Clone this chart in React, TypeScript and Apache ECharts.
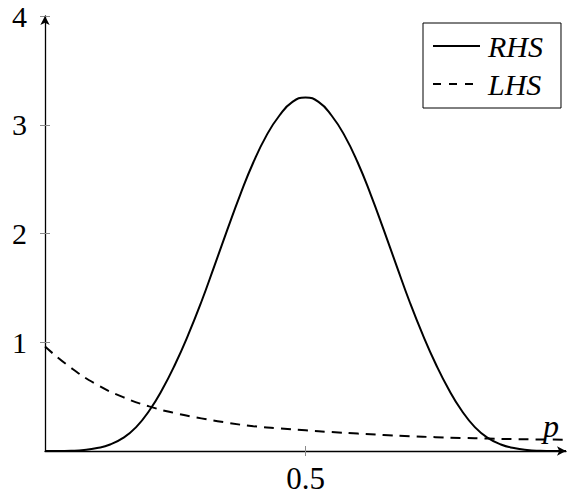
import React, { useEffect, useRef } from "react";
import * as echarts from "echarts";

const P_VALUES = [
  0, 0.025, 0.05, 0.075, 0.1, 0.125, 0.15, 0.175, 0.2, 0.225, 0.25, 0.275, 0.3, 0.325, 0.35, 0.375, 0.4,
  0.425, 0.45, 0.475, 0.5, 0.525, 0.55, 0.575, 0.6, 0.625, 0.65, 0.675, 0.7, 0.725, 0.75, 0.775, 0.8,
  0.825, 0.85, 0.875, 0.9, 0.925, 0.95, 0.975, 1,
];
const RHS_VALUES = [
  0, 0, 0.002, 0.009, 0.027, 0.06, 0.12, 0.22, 0.37, 0.565, 0.8, 1.07, 1.37, 1.7, 2.035, 2.36, 2.655,
  2.9, 3.085, 3.21, 3.25, 3.21, 3.085, 2.9, 2.655, 2.36, 2.035, 1.7, 1.37, 1.07, 0.8, 0.565, 0.37,
  0.22, 0.12, 0.06, 0.027, 0.009, 0.002, 0, 0,
];
const P_LHS = [0, 0.05, 0.1, 0.15, 0.2, 0.25, 0.3, 0.35, 0.4, 0.45, 0.5, 0.55, 0.6, 0.65, 0.7, 0.75, 0.8, 0.85, 0.9, 0.95, 1];
const LHS_VALUES = [
  0.96, 0.765, 0.61, 0.495, 0.41, 0.348, 0.3, 0.26, 0.228, 0.207, 0.19, 0.174, 0.16, 0.147, 0.136, 0.127,
  0.12, 0.114, 0.109, 0.106, 0.104,
];
const X_TICKS = [0.5];
const Y_TICKS = [1, 2, 3, 4];
const SERIES_NAMES = ["RHS", "LHS"];
const X_NAME = "p";

const SERIF = '"Liberation Serif", "Times New Roman", serif';

export default function App() {
  const ref = useRef<HTMLDivElement>(null);
  useEffect(() => {
    if (!ref.current) return;
    const chart = echarts.init(ref.current, null, { renderer: "svg" });
    const tickColor = "#8a8a8a";
    const baseX = {
      type: "value",
      min: 0,
      max: 1,
      position: "bottom",
      splitLine: { show: false },
    };
    const baseY = {
      type: "value",
      min: 0,
      max: 4,
      interval: 1,
      position: "left",
      splitLine: { show: false },
    };
    chart.setOption({
      animation: false,
      grid: { left: 45, right: 3, top: 16, bottom: 49 },
      legend: {
        orient: "vertical",
        left: 423,
        top: 23,
        padding: [8, 18, 9, 9],
        itemGap: 8,
        itemWidth: 47,
        itemHeight: 30,
        borderColor: "#000",
        borderWidth: 1,
        itemStyle: { opacity: 0 },
        textStyle: { fontFamily: SERIF, fontStyle: "italic", fontSize: 30, color: "#000", padding: [0, 0, 0, 3] },
        data: [
          { name: SERIES_NAMES[0], itemStyle: { opacity: 0 }, lineStyle: { type: "solid", width: 2, color: "#000", opacity: 1 } },
          { name: SERIES_NAMES[1], itemStyle: { opacity: 0 }, lineStyle: { type: [8, 8], width: 2, color: "#000", opacity: 1 } },
        ],
      },
      xAxis: [
        {
          ...baseX,
          axisLine: { show: true, symbol: ["none", "arrow"], symbolSize: [7, 9], lineStyle: { color: "#000", width: 1.3 } },
          axisTick: { show: true, length: 5, customValues: X_TICKS, lineStyle: { color: tickColor } },
          axisLabel: {
            show: true,
            customValues: X_TICKS,
            margin: 12,
            fontFamily: SERIF,
            fontSize: 31,
            color: "#000",
          },
        },
        {
          ...baseX,
          axisLine: { show: false },
          axisTick: { show: true, inside: true, length: 5, customValues: X_TICKS, lineStyle: { color: tickColor } },
          axisLabel: { show: false },
        },
      ],
      yAxis: [
        {
          ...baseY,
          axisLine: { show: true, symbol: ["none", "arrow"], symbolSize: [7, 9], lineStyle: { color: "#000", width: 1.3 } },
          axisTick: { show: true, length: 5, customValues: Y_TICKS, lineStyle: { color: tickColor } },
          axisLabel: {
            show: true,
            customValues: Y_TICKS,
            margin: 18,
            fontFamily: SERIF,
            fontSize: 30,
            color: "#000",
          },
        },
        {
          ...baseY,
          axisLine: { show: false },
          axisTick: { show: true, inside: true, length: 5, customValues: Y_TICKS, lineStyle: { color: tickColor } },
          axisLabel: { show: false },
        },
      ],
      graphic: [
        {
          type: "text",
          x: 551,
          y: 426,
          style: {
            text: X_NAME,
            font: `italic 32px ${SERIF}`,
            fill: "#000",
            textAlign: "center",
            textVerticalAlign: "middle",
          },
        },
      ],
      series: [
        {
          name: SERIES_NAMES[0],
          type: "line",
          xAxisIndex: 0,
          yAxisIndex: 0,
          data: P_VALUES.map((p, i) => [p, RHS_VALUES[i]]),
          symbol: "none",
          smooth: 0.5,
          lineStyle: { color: "#000", width: 2, type: "solid" },
          itemStyle: { color: "#000" },
        },
        {
          name: SERIES_NAMES[1],
          type: "line",
          xAxisIndex: 0,
          yAxisIndex: 0,
          data: P_LHS.map((p, i) => [p, LHS_VALUES[i]]),
          symbol: "none",
          smooth: 0.5,
          lineStyle: { color: "#000", width: 2, type: [10, 7] },
          itemStyle: { color: "#000" },
        },
      ],
    });
    return () => chart.dispose();
  }, []);
  return <div ref={ref} style={{ width: 569, height: 500, position: "absolute", left: 0, top: 0 }} />;
}
